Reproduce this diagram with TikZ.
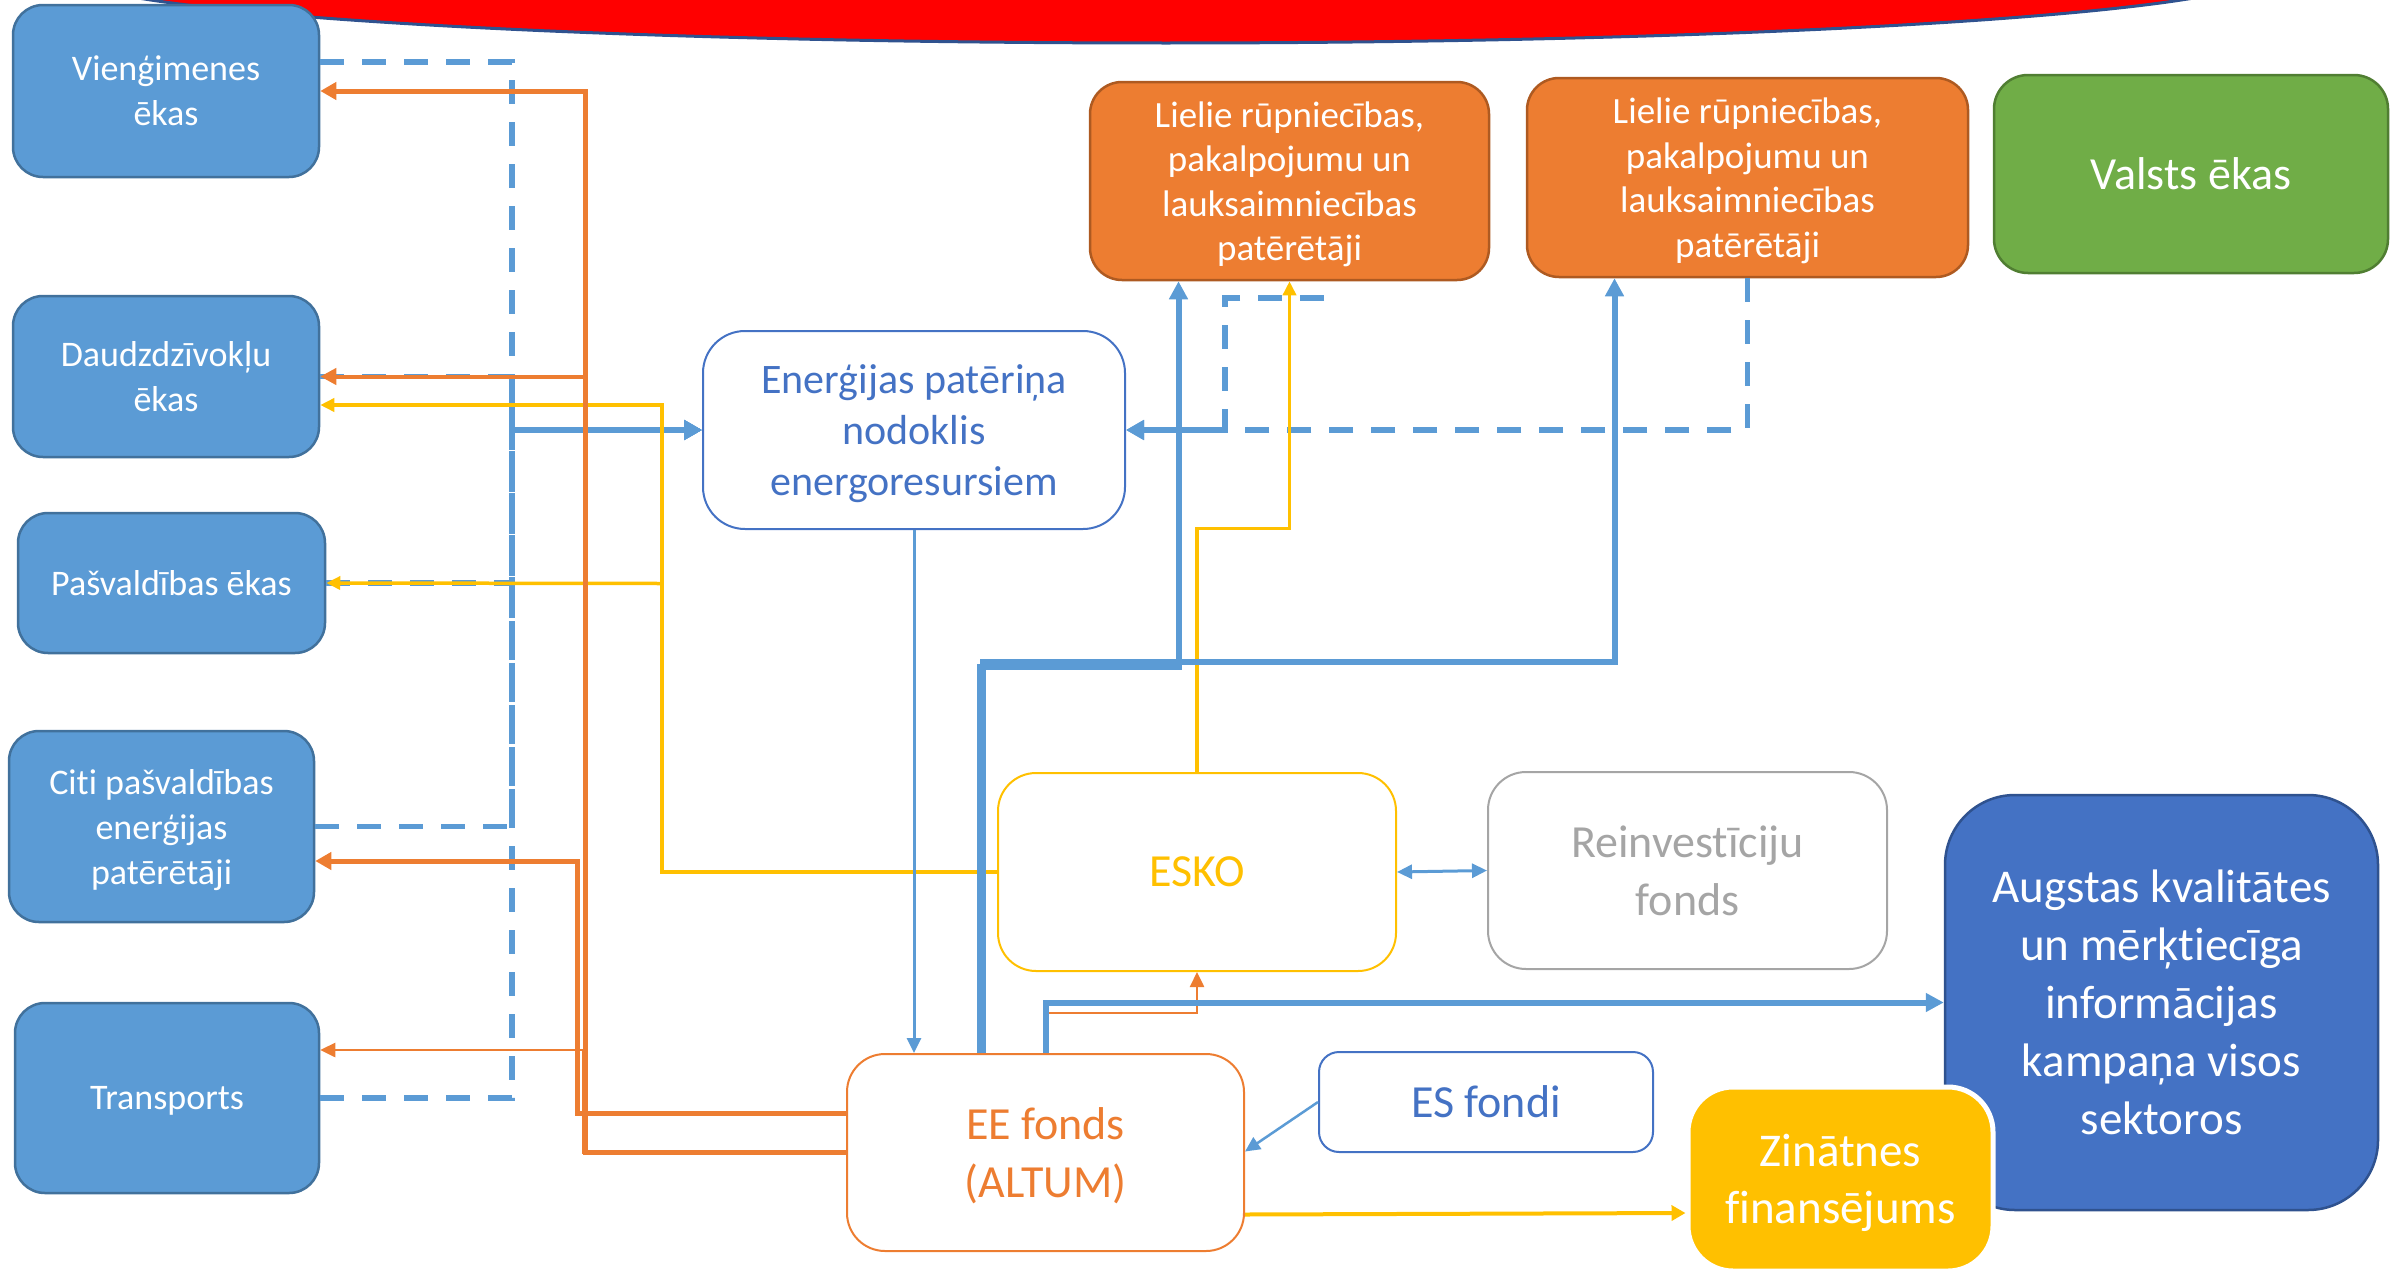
\documentclass[tikz,border=0pt]{standalone}
\usepackage{fontspec}
\setmainfont{Carlito}[Ligatures={NoCommon,NoDiscretionary}]
\usetikzlibrary{arrows.meta,calc}

\definecolor{sky}{HTML}{5B9BD5}
\definecolor{skyedge}{HTML}{41719C}
\definecolor{royal}{HTML}{4472C4}
\definecolor{royaledge}{HTML}{2F528F}
\definecolor{tang}{HTML}{ED7D31}
\definecolor{tangedge}{HTML}{AE5A21}
\definecolor{gold}{HTML}{FFC000}
\definecolor{leaf}{HTML}{70AD47}
\definecolor{leafedge}{HTML}{507E32}
\definecolor{ash}{HTML}{A5A5A5}
\definecolor{banner}{HTML}{FF0000}

\tikzset{
  base/.style={rectangle, inner sep=0pt, align=center, text depth=0pt},
  lbox/.style={base, fill=sky, draw=skyedge, line width=2.5pt, rounded corners=30pt,
    text=white, font=\fontsize{36}{45}\selectfont},
  obox/.style={base, fill=tang, draw=tangedge, line width=2.5pt, rounded corners=32pt,
    text=white, font=\fontsize{37}{44.5}\selectfont},
  gbox/.style={base, fill=leaf, draw=leafedge, line width=2.5pt, rounded corners=34pt,
    text=white, font=\fontsize{46}{56}\selectfont},
  wbox/.style={base, fill=white, line width=2pt, rounded corners=38pt,
    font=\fontsize{46}{58}\selectfont},
  bigbox/.style={base, fill=royal, draw=royaledge, line width=2.5pt, rounded corners=70pt,
    text=white, font=\fontsize{47}{58}\selectfont},
  zbox/.style={base, fill=gold, draw=white, line width=5pt, rounded corners=45pt,
    text=white, font=\fontsize{47}{57}\selectfont},
  bdash/.style={draw=sky, line width=5.5pt, dash pattern=on 24pt off 18pt,
    -{Triangle[length=18pt,width=19pt]}},
  bthick/.style={draw=sky, line width=6pt, -{Triangle[length=18pt,width=18pt]}},
  bthin/.style={draw=sky, line width=3pt, -{Triangle[length=15pt,width=14pt]}},
  othick/.style={draw=tang, line width=5pt, -{Triangle[length=16pt,width=17pt]}},
  omed/.style={draw=tang, line width=4pt, -{Triangle[length=16pt,width=16pt]}},
  othin/.style={draw=tang, line width=2.5pt, -{Triangle[length=15pt,width=14pt]}},
  ythin/.style={draw=gold, line width=3.5pt, -{Triangle[length=14pt,width=13pt]}},
  ymed/.style={draw=gold, line width=4pt, -{Triangle[length=14pt,width=15pt]}},
}

\begin{document}
\begin{tikzpicture}[x=1pt,y=-1pt]
\useasboundingbox (0,0) rectangle (2390,1274);

% red banner along the top edge
\begin{scope}
  \clip (0,0) rectangle (2390,1274);
  \draw[fill=banner, draw=royaledge, line width=3pt] (1166,-27) ellipse [x radius=1100, y radius=70];
\end{scope}

% consumer groups on the left
\node[lbox, minimum width=306pt, minimum height=172pt] (vien)  at (166,91)    {Vienģimenes\\ēkas};
\node[lbox, minimum width=306pt, minimum height=161pt] (daud)  at (166,376.5) {Daudzdzīvokļu\\ēkas};
\node[lbox, minimum width=307pt, minimum height=140pt] (pasv)  at (171.5,583) {Pašvaldības ēkas};
\node[lbox, minimum width=305pt, minimum height=191pt] (citi)  at (161.5,826.5) {Citi pašvaldības\\enerģijas\\patērētāji};
\node[lbox, minimum width=304pt, minimum height=190pt] (trans) at (167,1098)   {Transports};

% top row
\node[obox, minimum width=399pt, minimum height=198pt] (liel1) at (1289.5,181) {Lielie rūpniecības,\\pakalpojumu un\\lauksaimniecības\\patērētāji};
\node[obox, minimum width=441pt, minimum height=199pt] (liel2) at (1747.5,177.5) {Lielie rūpniecības,\\pakalpojumu un\\lauksaimniecības\\patērētāji};
\node[gbox, minimum width=394pt, minimum height=198pt] (valsts) at (2191,174) {Valsts ēkas};

% tax, service and fund boxes
\node[wbox, draw=royal, text=royal, rounded corners=42pt, font=\fontsize{42}{51}\selectfont,
      minimum width=422pt, minimum height=198pt] (nodok) at (914,430) {Enerģijas patēriņa\\nodoklis\\energoresursiem};
\node[wbox, draw=gold, text=gold, minimum width=398pt, minimum height=198pt] (esko) at (1197,872) {ESKO};
\node[wbox, draw=ash, text=ash, minimum width=399pt, minimum height=197pt] (reinv) at (1687.5,870.5) {Reinvestīciju\\fonds};
\node[wbox, draw=tang, text=tang, minimum width=397pt, minimum height=197pt] (ee) at (1045.5,1152.5) {EE fonds\\(ALTUM)};
\node[wbox, draw=royal, text=royal, rounded corners=20pt, minimum width=334pt, minimum height=100pt] (esf) at (1486,1102) {ES fondi};

% campaign and research funding
\node[bigbox, minimum width=433pt, minimum height=415pt] (augst) at (2161.5,1002.5) {Augstas kvalitātes\\un mērķtiecīga\\informācijas\\kampaņa visos\\sektoros};
\node[zbox, minimum width=305pt, minimum height=184pt] (zin) at (1840.5,1179) {Zinātnes\\finansējums};

% junction points of the shared trunks
\coordinate (bus) at (512,430);
\coordinate (ytop) at (662,405);
\coordinate (ymid) at (662,583.5);
\coordinate (d1) at (1324,298);

% energy tax: consumers report to the tax box
\draw[bdash] ($(vien.east)+(0,-29)$) -| (bus) -- (nodok.west);
\draw[bdash] (daud.east) -| (bus) -- (nodok.west);
\draw[bdash] (pasv.east) -| (bus) -- (nodok.west);
\draw[bdash] (citi.east) -| (bus) -- (nodok.west);
\draw[bdash] (trans.east) -| (bus) -- (nodok.west);
\draw[bdash] (d1) -| (1225,430) -- (nodok.east);
\draw[bdash] (liel2.south) |- (nodok.east);

% ESKO services
\draw[ythin] (esko.west) -| (ytop) -- ($(daud.east)+(0,28.5)$);
\draw[ythin] (esko.west) -| (ymid) -- (pasv.east);
\draw[ythin] (esko.north) |- ($(liel1.south)+(0,247)$) -- (liel1.south);

% EE fund support
\draw[othick] (ee.west) -| (585,91) -- (vien.east);
\draw[omed] (ee.west) -| (585,376.5) -- (daud.east);
\draw[othin] (ee.west) -| (583,1050) -- ($(trans.east)+(0,-48)$);
\draw[othick] ($(ee.west)+(0,-39.5)$) -| (577,861) -- ($(citi.east)+(0,34.5)$);
\draw[othin] ($(ee.north)+(1.5,0)$) |- ($(esko.south)+(0,41)$) -- (esko.south);

\draw[bthick] ($(ee.north)+(-66,0)$) |- ($(liel1.south)+(-111,386)$) -- ($(liel1.south)+(-111,0)$);
\draw[bthick] ($(ee.north)+(-63,0)$) |- ($(liel2.south)+(-133,384)$) -- ($(liel2.south)+(-133,0)$);
\draw[bthick] (ee.north) |- (augst.west);

\draw[bthin] (nodok.south) -- (nodok.south |- ee.north);
\draw[bthin, line width=2.5pt] (esf.west) -- ($(ee.east)+(0,-1)$);
\draw[bthin, {Triangle[length=15pt,width=14pt]}-{Triangle[length=15pt,width=14pt]}] (esko.east) -- (reinv.west);
\draw[ymed] ($(ee.east)+(0,62)$) -- ($(zin.west)+(0,34)$);

\end{tikzpicture}
\end{document}
